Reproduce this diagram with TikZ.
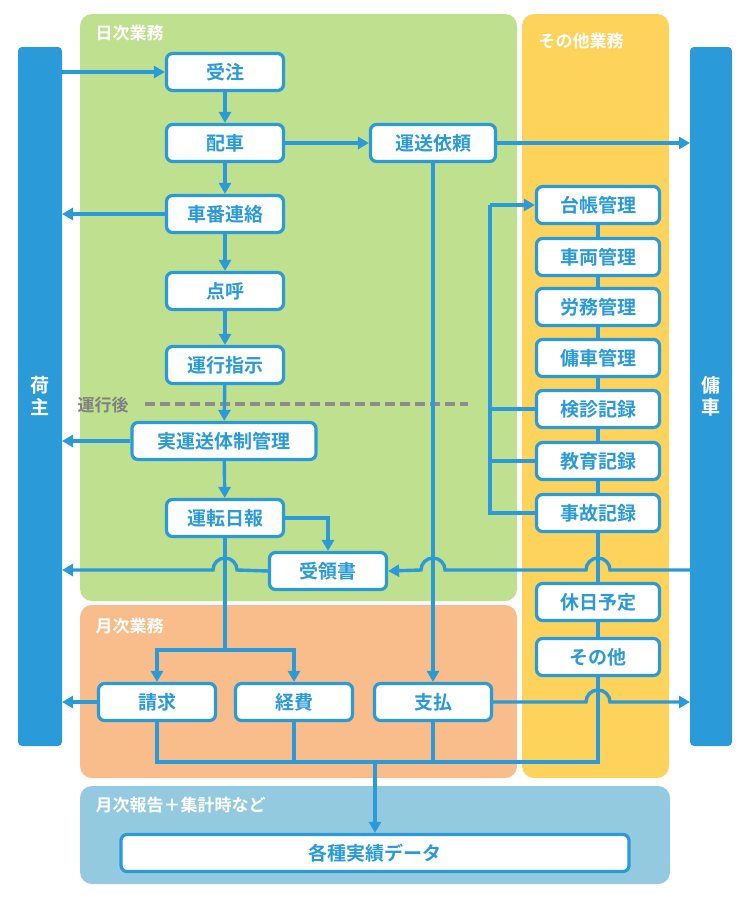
\documentclass[tikz,border=0pt]{standalone}
\usepackage{fontspec}
\setmainfont{Noto Sans CJK JP}[BoldFont={* Bold}]
\usetikzlibrary{arrows.meta}
\definecolor{lb}{HTML}{2B9AD8}
\definecolor{pg}{HTML}{BFE08F}
\definecolor{py}{HTML}{FDD35C}
\definecolor{po}{HTML}{F8BD8A}
\definecolor{pb}{HTML}{94CADF}
\begin{document}
\begin{tikzpicture}[x=1pt,y=-1pt,
 box/.style={draw=lb,line width=3.2pt,fill=white,rounded corners=6pt,minimum height=37pt,font=\bfseries\fontsize{19}{19}\selectfont,text=lb,inner sep=0pt},
 w1/.style={box,minimum width=117pt},
 w2/.style={box,minimum width=123pt},
 panel/.style={rounded corners=12pt},
 ptitle/.style={font=\bfseries\fontsize{17}{17}\selectfont,text=white,anchor=west},
 ln/.style={draw=lb,line width=3.4pt},
 ar/.style={ln,-{Triangle[length=11pt,width=12pt]}},
 bar/.style={fill=lb,rounded corners=4pt}]
\useasboundingbox (0,0) rectangle (750,900);
\fill[white] (0,0) rectangle (750,900);
% panels
\fill[pg,panel] (80,14) rectangle (517,601);
\fill[py,panel] (522,14) rectangle (669,778);
\fill[po,panel] (80,605) rectangle (517,778);
\fill[pb,panel] (80,786) rectangle (670,884);
\node[ptitle] (t1) at (92,33) {日次業務};
\node[ptitle] (t2) at (535,41) {その他業務};
\node[ptitle] (t3) at (92,626) {月次業務};
\node[ptitle] (t4) at (92,805) {月次報告＋集計時など};
% bars
\fill[bar] (18,47) rectangle (62,746);
\fill[bar] (690,47) rectangle (732,746);
\node[font=\bfseries\fontsize{19}{22}\selectfont,text=white,align=center] (ninushi) at (40,396) {荷\\主};
\node[font=\bfseries\fontsize{19}{22}\selectfont,text=white,align=center] (yosha) at (711,396) {傭\\車};
% dashed
\draw[draw=gray!90,line width=3.5pt,dash pattern=on 10pt off 5pt] (145,404) -- (468,404);
\node[font=\bfseries\fontsize{17}{17}\selectfont,text=gray] (unko) at (103,405) {運行後};
% bracket
\draw[ln] (535,409) -- (490,409);
\draw[ln] (535,461) -- (490,461);
\draw[ln] (535,513) -- (490,513) -- (490,205);
% boxes
\node[w1] (juchu) at (225,72) {受注};
\node[w1] (haisha) at (225,143) {配車};
\node[box,minimum width=125pt] (irai) at (433,143) {運送依頼};
\node[w1] (shaban) at (225,214) {車番連絡};
\node[w1] (tenko) at (225,291) {点呼};
\node[w1] (shiji) at (225,365) {運行指示};
\node[box,minimum width=184pt] (jitsu) at (224,441) {実運送体制管理};
\node[w1] (nippo) at (225,518) {運転日報};
\node[w1] (juryo) at (328,571) {受領書};
\node[w1] (seikyu) at (157,702) {請求};
\node[w1] (keihi) at (294,702) {経費};
\node[w1] (shiharai) at (433,702) {支払};
\node[w2] (r1) at (598,205) {台帳管理};
\node[w2] (r2) at (598,257) {車両管理};
\node[w2] (r3) at (598,307) {労務管理};
\node[w2] (r4) at (598,358) {傭車管理};
\node[w2] (r5) at (598,409) {検診記録};
\node[w2] (r6) at (598,461) {教育記録};
\node[w2] (r7) at (598,513) {事故記録};
\node[w2] (r8) at (598,602) {休日予定};
\node[w2] (r9) at (598,657) {その他};
\node[box,minimum width=508pt] (data) at (375,853) {各種実績データ};
% connectors
\draw[ar] (62,72) -- (juchu.west);
\draw[ar] (juchu) -- (haisha);
\draw[ar] (haisha) -- (shaban);
\draw[ar] (shaban) -- (tenko);
\draw[ar] (tenko) -- (shiji);
\draw[ar] (shiji) -- (jitsu);
\draw[ar] (jitsu) -- (nippo);
\draw[ar] (haisha) -- (irai);
\draw[ar] (irai.east) -- (690,143);
\draw[ar] (shaban.west) -- (62,214);
\draw[ar] (jitsu.west) -- (62,441);
\draw[ar] (490,205) -- (r1.west);
\foreach \a/\b in {r1/r2,r2/r3,r3/r4,r4/r5,r5/r6,r6/r7,r7/r8,r8/r9} \draw[ln] (\a) -- (\b);
\draw[ar] (nippo.east) -- (328,518) -- (juryo.north);
\draw[ar] (690,570) -- (610,570) arc[start angle=0,end angle=-180,radius=12] -- (445,570) arc[start angle=0,end angle=-180,radius=12] -- (juryo.east);
\draw[ar] (juryo.west) -- (237,570) arc[start angle=0,end angle=-180,radius=12] -- (62,570);
\draw[ln] (nippo.south) -- (225,650);
\draw[ar] (225,650) -- (157,650) -- (seikyu.north);
\draw[ar] (225,650) -- (294,650) -- (keihi.north);
\draw[ar] (irai.south) -- (shiharai.north);
\draw[ar] (seikyu.west) -- (62,702);
\draw[ar] (shiharai.east) -- (586,702) arc[start angle=180,end angle=360,radius=12] -- (690,702);
\draw[ln] (seikyu.south) -- (157,762) -- (598,762) -- (r9.south);
\draw[ln] (keihi.south) -- (294,762);
\draw[ln] (shiharai.south) -- (433,762);
\draw[ar] (375,762) -- (data.north);
\end{tikzpicture}
\end{document}
